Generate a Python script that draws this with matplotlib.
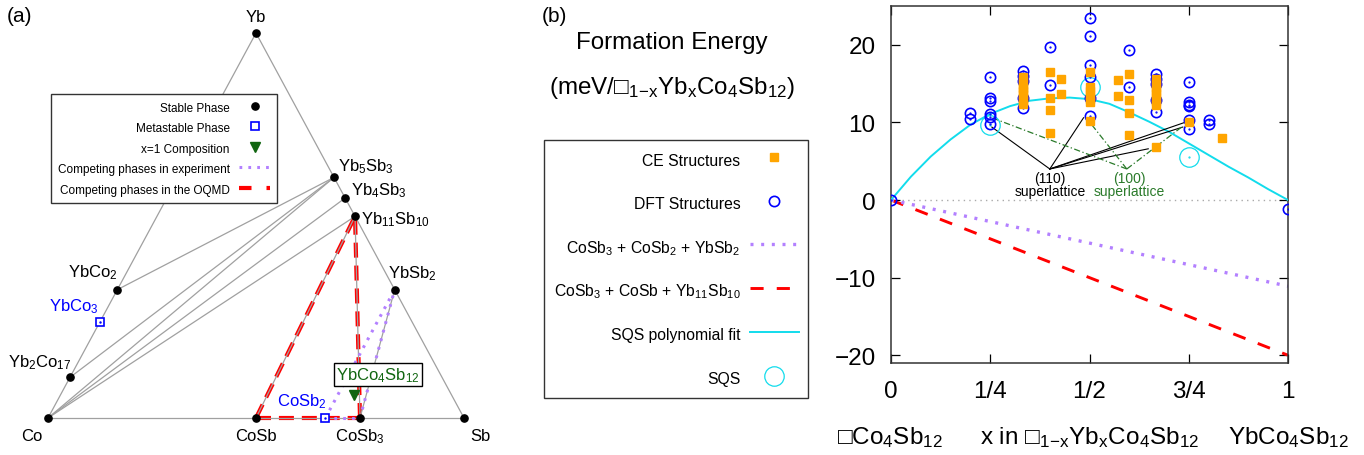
import numpy as np
import matplotlib.pyplot as plt

plt.rcParams['font.family'] = ['Liberation Sans', 'DejaVu Sans']
plt.rcParams['mathtext.fontset'] = 'custom'
plt.rcParams['mathtext.rm'] = 'Liberation Sans'
plt.rcParams['mathtext.it'] = 'Liberation Sans:italic'
plt.rcParams['mathtext.default'] = 'rm'

# ---- (a) ternary Co-Sb-Yb : compositions as (Co, Sb, Yb) fractions
stable_names = ['Co', 'Sb', 'Yb', 'CoSb', 'CoSb3', 'YbSb2', 'Yb11Sb10', 'Yb4Sb3', 'Yb5Sb3', 'YbCo2', 'Yb2Co17']
stable_comp = [(1, 0, 0), (0, 1, 0), (0, 0, 1), (1/2, 1/2, 0), (1/4, 3/4, 0), (0, 2/3, 1/3),
               (0, 10/21, 11/21), (0, 3/7, 4/7), (0, 3/8, 5/8), (2/3, 0, 1/3), (17/19, 0, 2/19)]
meta_names = ['YbCo3', 'CoSb2']
meta_comp = [(3/4, 0, 1/4), (1/3, 2/3, 0)]
target_comp = (4/17, 12/17, 1/17)
tie_lines = [('Co', 'Sb'), ('Sb', 'Yb'), ('Yb', 'Co'), ('Co', 'Yb5Sb3'), ('Co', 'Yb4Sb3'),
             ('Co', 'Yb11Sb10'), ('Yb2Co17', 'Yb5Sb3'), ('YbCo2', 'Yb5Sb3'), ('CoSb', 'Yb11Sb10'),
             ('CoSb3', 'Yb11Sb10'), ('CoSb3', 'YbSb2')]
exp_lines = [('CoSb2', 'CoSb3'), ('CoSb2', 'YbSb2'), ('CoSb3', 'YbSb2')]
oqmd_lines = [('CoSb', 'CoSb3'), ('CoSb', 'Yb11Sb10'), ('CoSb3', 'Yb11Sb10')]

# ---- (b) formation energy (meV) vs x
dft_x = [0, 1/5, 1/4, 1/3, 2/5, 1/2, 3/5, 2/3, 3/4, 4/5, 1]
dft_e = [[0], [11.2, 10.5], [15.8, 13.1, 12.8, 11.1, 10.7, 9.8], [16.6, 16.0, 15.4, 13.1, 11.8],
         [19.7, 14.8], [23.4, 21.1, 17.4, 15.8, 13.1, 10.8], [19.3, 14.6],
         [16.2, 15.6, 14.9, 12.9, 11.4], [15.2, 12.6, 12.3, 12.1, 10.3, 9.2], [10.3, 9.8], [-1.2]]
ce_x = [1/3, 2/5, 3/7, 1/2, 4/7, 3/5, 2/3, 3/4, 5/6]
ce_e = [[15.8, 15.3, 14.8, 14.4, 14.0, 13.6, 13.2, 12.8, 12.4], [16.5, 13.2, 11.6, 8.7], [15.6, 13.7],
        [16.5, 14.5, 14.0, 13.5, 13.0, 12.6, 10.2], [15.5, 13.4], [16.2, 12.9, 11.2, 8.4],
        [15.6, 15.1, 14.6, 14.2, 13.7, 13.2, 12.7, 12.2, 6.8], [10.1], [8.0]]
sqs_x = [1/4, 1/2, 3/4]
sqs_e = [9.7, 14.6, 5.6]
fit_x = [0, 0.05, 0.1, 0.15, 0.2, 0.25, 0.3, 0.35, 0.4, 0.45, 0.5,
         0.55, 0.6, 0.65, 0.7, 0.75, 0.8, 0.85, 0.9, 0.95, 1.0]
fit_e = [0, 3.0, 5.6, 7.8, 9.7, 11.1, 12.1, 12.8, 13.1, 13.2, 13.0,
         12.4, 11.3, 10.1, 8.8, 7.3, 5.8, 4.3, 2.9, 1.4, 0]
hull_x = [0, 1]
exp_e = [0, -11.1]
oqmd_e = [0, -20.0]
sl110_apex = (0.40, 4.0)
sl110_to = [(0.254, 9.4), (0.485, 10.6), (0.648, 6.6), (0.735, 9.4), (0.74, 10.0)]
sl100_apex = (0.594, 4.0)
sl100_to = [(0.254, 10.6), (0.501, 10.0), (0.732, 9.4)]

xticks = [0, 0.25, 0.5, 0.75, 1]
xticklabels = ['0', '1/4', '1/2', '3/4', '1']

W, H = 1364, 456
fig = plt.figure(figsize=(W / 100, H / 100), dpi=100)

# full-figure axes in pixel units for the ternary diagram and free text
ax0 = fig.add_axes([0, 0, 1, 1])
ax0.set_xlim(0, W)
ax0.set_ylim(H, 0)
ax0.axis('off')

V = np.array([[48, 419], [464, 419], [256, 34]], dtype=float)


def tern(c):
    return np.asarray(c) @ V


pos = {n: tern(c) for n, c in zip(stable_names + meta_names, stable_comp + meta_comp)}

gray = '#a0a0a0'
purple = '#b380ff'
for a, b in oqmd_lines:
    ax0.plot(*zip(pos[a], pos[b]), color='red', lw=3.0, dashes=(3.6, 1.9), zorder=2)
for a, b in tie_lines:
    ax0.plot(*zip(pos[a], pos[b]), color=gray, lw=0.9, zorder=3)
for a, b in exp_lines:
    ax0.plot(*zip(pos[a], pos[b]), color=purple, lw=2.2, dashes=(0.9, 2.0), zorder=3)

st = np.array([pos[n] for n in stable_names])
h_st, = ax0.plot(st[:, 0], st[:, 1], 'o', color='black', ms=5.2, ls='none', zorder=5)
mt = np.array([pos[n] for n in meta_names])
h_mt, = ax0.plot(mt[:, 0], mt[:, 1], 's', mfc='white', mec='blue', mew=1.2, ms=6, ls='none', zorder=5)
ax0.plot(mt[:, 0], mt[:, 1], '.', color='blue', ms=1.5, zorder=6)
tp = tern(target_comp)
h_tg, = ax0.plot([tp[0]], [tp[1]], 'v', color='#116611', ms=6.5, ls='none', zorder=5)
h_exp, = ax0.plot([], [], color=purple, lw=2.2, dashes=(0.9, 2.0))
h_oq, = ax0.plot([], [], color='red', lw=3.0, dashes=(3.0, 3.6))

lab_fs = 12
labels = {
    'Yb': ('Yb', 0, -17, 'center'), 'Co': ('Co', -16, 18, 'center'), 'CoSb': ('CoSb', 0, 18, 'center'),
    'CoSb3': ('CoSb$_3$', 0, 18, 'center'), 'Sb': ('Sb', 16, 18, 'center'),
    'Yb5Sb3': ('Yb$_5$Sb$_3$', 4, -12, 'left'), 'Yb4Sb3': ('Yb$_4$Sb$_3$', 6, -8, 'left'),
    'Yb11Sb10': ('Yb$_{11}$Sb$_{10}$', 6, 2, 'left'), 'YbSb2': ('YbSb$_2$', -7, -17, 'left'),
    'YbCo2': ('YbCo$_2$', 0, -18, 'right'), 'Yb2Co17': ('Yb$_2$Co$_{17}$', 1, -16, 'right'),
}
for n, (t, dx, dy, ha) in labels.items():
    p = pos[n]
    ax0.text(p[0] + dx, p[1] + dy, t, fontsize=lab_fs, ha=ha, va='center', zorder=7)
ax0.text(pos['YbCo3'][0] - 1, pos['YbCo3'][1] - 16, 'YbCo$_3$', color='blue', fontsize=lab_fs,
         ha='right', va='center')
ax0.text(pos['CoSb2'][0] + 1, pos['CoSb2'][1] - 17, 'CoSb$_2$', color='blue', fontsize=lab_fs,
         ha='right', va='center')
ax0.text(tp[0] + 24, tp[1] - 21, 'YbCo$_4$Sb$_{12}$', color='#116611', fontsize=lab_fs,
         ha='center', va='center', zorder=8,
         bbox=dict(boxstyle='square,pad=0.12', fc='white', ec='black', lw=1.0))

ax0.text(7, 17, '(a)', fontsize=15, va='center')
ax0.text(542, 17, '(b)', fontsize=15, va='center')
ax0.text(672, 43, 'Formation Energy', fontsize=17.4, ha='center', va='center')
ax0.text(672, 88, r'(meV/□$_{1\!-\!x}$Yb$_x$Co$_4$Sb$_{12}$)', fontsize=17.4, ha='center', va='center')

leg_a = ax0.legend([h_st, h_mt, h_tg, h_exp, h_oq],
                   ['Stable Phase', 'Metastable Phase', 'x=1 Composition',
                    'Competing phases in experiment', 'Competing phases in the OQMD'],
                   loc='upper right', bbox_to_anchor=(277, 95), bbox_transform=ax0.transData,
                   markerfirst=False, fontsize=8.5, handlelength=2.6, handleheight=1.2,
                   labelspacing=0.62, handletextpad=0.8, borderpad=0.6, borderaxespad=0,
                   fancybox=False, edgecolor='#333333', framealpha=1)
leg_a.get_frame().set_linewidth(1.0)

# ---- (b) plot
ax = fig.add_axes([891 / W, 1 - 364 / H, 397 / W, 357 / H])
cyan = '#12dcec'
ax.axhline(0, color='#aaaaaa', lw=1.0, ls=(0, (1, 3)), zorder=1)
h_oq2, = ax.plot(hull_x, oqmd_e, color='red', lw=2.1, dashes=(4.5, 4.5), zorder=2)
h_exp2, = ax.plot(hull_x, exp_e, color=purple, lw=2.4, dashes=(0.9, 2.3), zorder=2)
h_fit, = ax.plot(fit_x, fit_e, color=cyan, lw=1.4, zorder=3)

for tx, ty in sl110_to:
    ax.plot([sl110_apex[0], tx], [sl110_apex[1], ty], color='black', lw=0.8, zorder=3)
for tx, ty in sl100_to:
    ax.plot([sl100_apex[0], tx], [sl100_apex[1], ty], color='#2a7a2a', lw=0.9,
            ls=(0, (5, 2, 1, 2)), zorder=3)

dx = np.concatenate([[x] * len(v) for x, v in zip(dft_x, dft_e)])
de = np.concatenate(dft_e)
cx = np.concatenate([[x] * len(v) for x, v in zip(ce_x, ce_e)])
ce = np.concatenate(ce_e)
h_sqs, = ax.plot(sqs_x, sqs_e, 'o', mfc='none', mec=cyan, mew=0.9, ms=14, ls='none', zorder=4)
ax.plot(sqs_x, sqs_e, '.', color=cyan, ms=1.2, zorder=4)
h_dft, = ax.plot(dx, de, 'o', mfc='none', mec='blue', mew=1.2, ms=7.4, ls='none', zorder=5)
ax.plot(dx, de, '.', color='blue', ms=1.2, zorder=5)
h_ce, = ax.plot(cx, ce, 's', color='orange', ms=5.5, ls='none', zorder=6)

ax.text(sl110_apex[0], 2.8, '(110)', fontsize=10, ha='center', va='center', zorder=7)
ax.text(sl110_apex[0], 1.2, 'superlattice', fontsize=10, ha='center', va='center', zorder=7)
ax.text(sl100_apex[0] + 0.006, 2.8, '(100)', fontsize=10, color='#2a7a2a', ha='center', va='center', zorder=7)
ax.text(sl100_apex[0] + 0.006, 1.2, 'superlattice', fontsize=10, color='#2a7a2a', ha='center', va='center', zorder=7)

ax.set_xlim(0, 1)
ax.set_ylim(-21, 25)
ax.set_xticks(xticks)
ax.set_xticklabels(xticklabels)
ax.set_yticks([-20, -10, 0, 10, 20])
ax.tick_params(direction='in', length=6.5, width=0.9, top=True, right=True, labelsize=17.5)
ax.tick_params(axis='y', pad=11)
ax.tick_params(axis='x', pad=12)
for s in ax.spines.values():
    s.set_linewidth(1.1)
    s.set_color('#333333')

ax0.text(890, 438, '□Co$_4$Sb$_{12}$', fontsize=17.5, ha='center', va='center')
ax0.text(1089.5, 438, r'x in □$_{1\!-\!x}$Yb$_x$Co$_4$Sb$_{12}$', fontsize=17.5, ha='center', va='center')
ax0.text(1288, 438, 'YbCo$_4$Sb$_{12}$', fontsize=17.5, ha='center', va='center')

leg_b = ax.legend([h_ce, h_dft, h_exp2, h_oq2, h_fit, h_sqs],
                  ['CE Structures', 'DFT Structures', 'CoSb$_3$ + CoSb$_2$ + YbSb$_2$',
                   'CoSb$_3$ + CoSb + Yb$_{11}$Sb$_{10}$', 'SQS polynomial fit', 'SQS'],
                  loc='upper right', bbox_to_anchor=(808, 141), bbox_transform=ax0.transData,
                  markerfirst=False, fontsize=11.3, handlelength=3.1, handleheight=1.6,
                  labelspacing=1.5, handletextpad=0.6, borderpad=0.6, borderaxespad=0,
                  fancybox=False, edgecolor='#333333', framealpha=1)
leg_b.get_frame().set_linewidth(1.0)

fig.savefig('out.png', dpi=100)
